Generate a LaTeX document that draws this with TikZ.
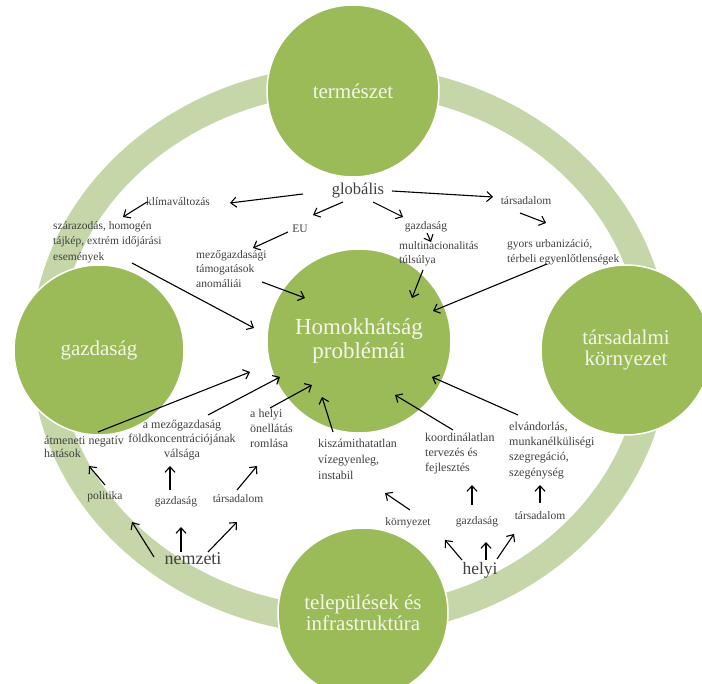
\documentclass[tikz,border=0pt]{standalone}
\usepackage{fontspec}
\setmainfont{Liberation Serif}
\usetikzlibrary{arrows.meta,calc}
\definecolor{ringg}{HTML}{C5D6A8}
\definecolor{circg}{HTML}{9BBB59}
\definecolor{circt}{HTML}{F3F6E8}
\definecolor{lblc}{HTML}{404040}
\begin{document}
\begin{tikzpicture}[x=1pt,y=-1pt,
  circ/.style={circle, fill=circg, draw=white, line width=1.5pt, text=circt, align=center, inner sep=0pt, font=\fontsize{21}{20.5}\selectfont},
  lbl/.style={text=lblc, inner sep=1pt, anchor=mid, font=\fontsize{11.5}{15}\selectfont},
  lblm/.style={text=lblc, inner sep=1pt, align=left, anchor=mid west, font=\fontsize{11.5}{15}\selectfont},
  lblb/.style={text=lblc, inner sep=1pt, align=left, anchor=mid west, font=\fontsize{12}{15}\selectfont},
  big/.style={text=lblc, inner sep=1pt, anchor=mid, font=\fontsize{17}{20}\selectfont},
  arr/.style={line width=1.1pt, -{Straight Barb[length=5.5pt,width=10pt]}}
]
\useasboundingbox (0,0) rectangle (702,684);
% ring
\draw[ringg, line width=28pt] (350,350) ellipse [x radius=305pt, y radius=271pt];
% circles
\node[circ, minimum size=172pt] (nat) at (353,91) {természet};
\node[circ, minimum size=170pt] (eco) at (99,350) {gazdaság};
\node[circ, minimum size=170pt] (soc) at (626,350) {társadalmi\\környezet};
\node[circ, minimum size=170pt] (inf) at (363,613) {települések és\\infrastruktúra};
\node[circ, minimum size=184pt, font=\fontsize{23}{24}\selectfont] (hk) at (359,341) {Homokhátság\\problémái};
% upper labels (multi-line nodes are placed by their last line)
\node[big, font=\fontsize{16.5}{20}\selectfont] (glob) at (358,192) {globális};
\node[lbl] (klima) at (178,203) {klímaváltozás};
\node[lbl] (eu) at (300,230) {EU};
\node[lbl] (gazd1) at (426,227) {gazdaság};
\node[lbl] (tars1) at (526,202) {társadalom};
\node[lblm, font=\fontsize{11.5}{15.5}\selectfont] (szar) at (52,258) {szárazodás, homogén\\tájkép, extrém időjárási\\események};
\node[lblm, font=\fontsize{11.5}{14.5}\selectfont] (mezo) at (195,285) {mezőgazdasági\\támogatások\\anomáliái};
\node[lblm, font=\fontsize{11.5}{14}\selectfont] (multi) at (398,261) {multinacionalitás\\túlsúlya};
\node[lblm] (gyors) at (506,260) {gyors urbanizáció,\\térbeli egyenlőtlenségek};
% lower labels
\node[lblb, font=\fontsize{12}{13}\selectfont] (atm) at (43,455) {átmeneti negatív\\hatások};
\node[lblb, align=center, anchor=mid, font=\fontsize{12}{14.5}\selectfont] (valsag) at (182,455) {a mezőgazdaság\\földkoncentrációjának\\válsága};
\node[lblb] (helyi1) at (249,445) {a helyi\\önellátás\\romlása};
\node[lblb, font=\fontsize{12}{16}\selectfont] (kisz) at (317,477) {kiszámithatatlan\\vízegyenleg,\\instabil};
\node[lblb] (koord) at (424,469) {koordinálatlan\\tervezés és\\fejlesztés};
\node[lblb, font=\fontsize{12}{15.3}\selectfont] (elv) at (508,474) {elvándorlás,\\munkanélküliségi\\szegregáció,\\szegénység};
\node[lbl] (pol) at (105,497) {politika};
\node[lbl] (gazd2) at (176,502) {gazdaság};
\node[lbl] (tars2) at (238,500) {társadalom};
\node[big, font=\fontsize{18}{20}\selectfont] (nemz) at (193,562) {nemzeti};
\node[lbl] (korny) at (408,523) {környezet};
\node[lbl] (gazd3) at (477,522) {gazdaság};
\node[lbl] (tars3) at (540,517) {társadalom};
\node[big, font=\fontsize{17.5}{20}\selectfont] (helyi) at (480,572) {helyi};
% upper arrows
\draw[arr] ($(glob.mid)+(-55,2)$) -- ($(klima.mid)+(52,0)$);
\draw[arr] ($(klima.mid)+(-31,-1)$) -- ($(szar.mid west)+(71,-41)$);
\draw[arr] ($(glob.mid)+(-15,10)$) -- ($(eu.mid)+(13,-15)$);
\draw[arr] ($(eu.mid)+(-12,2)$) -- ($(mezo.mid west)+(58,-37)$);
\draw[arr] ($(glob.mid)+(15,10)$) -- ($(gazd1.mid)+(-23,-10)$);
\draw[arr] ($(glob.mid)+(34,-1)$) -- ($(tars1.mid)+(-33,-5)$);
\draw[arr] ($(gazd1.mid)+(1,6)$) -- ($(multi.mid west)+(33,-19)$);
\draw[arr] ($(tars1.mid)+(-6,11)$) -- ($(gyors.mid west)+(40,-37)$);
\draw[arr] ($(szar.mid west)+(80,5)$) -- ($(hk.center)+(-105,-13)$);
\draw[arr] ($(mezo.mid west)+(67,-3)$) -- ($(hk.center)+(-54,-43)$);
\draw[arr] ($(multi.mid west)+(25,9)$) -- ($(hk.center)+(53,-43)$);
\draw[arr] ($(gyors.mid west)+(41,4)$) -- ($(hk.center)+(74,-30)$);
% lower arrows into the centre
\draw[arr] ($(atm.mid west)+(55,-23)$) -- ($(hk.center)+(-109,31)$);
\draw[arr] ($(valsag.mid)+(26,-40)$) -- ($(hk.center)+(-79,36)$);
\draw[arr] ($(helyi1.mid west)+(21,-37)$) -- ($(hk.center)+(-47,44)$);
\draw[arr] ($(kisz.mid west)+(16,-45)$) -- ($(hk.center)+(-37,56)$);
\draw[arr] ($(koord.mid west)+(29,-39)$) -- ($(hk.center)+(36,54)$);
\draw[arr] ($(elv.mid west)+(10,-59)$) -- ($(hk.center)+(73,36)$);
% national
\draw[arr] ($(nemz.mid)+(-39,-5)$) -- ($(pol.mid)+(27,25)$);
\draw[arr] ($(nemz.mid)+(-12,-10)$) -- ($(gazd2.mid)+(5,25)$);
\draw[arr] ($(nemz.mid)+(15,-10)$) -- ($(tars2.mid)+(-1,22)$);
\draw[arr] ($(pol.mid)+(0,-12)$) -- ($(atm.mid west)+(46,11)$);
\draw[arr] ($(gazd2.mid)+(-6,-12)$) -- ($(valsag.mid)+(-12,11)$);
\draw[arr] ($(tars2.mid)+(-1,-10)$) -- ($(helyi1.mid west)+(8,21)$);
% local
\draw[arr] ($(helyi.mid)+(-18,-12)$) -- ($(korny.mid)+(37,17)$);
\draw[arr] ($(helyi.mid)+(6,-12)$) -- ($(gazd3.mid)+(9,20)$);
\draw[arr] ($(helyi.mid)+(17,-13)$) -- ($(tars3.mid)+(-26,17)$);
\draw[arr] ($(korny.mid)+(2,-13)$) -- ($(kisz.mid west)+(68,16)$);
\draw[arr] ($(gazd3.mid)+(-5,-17)$) -- ($(koord.mid west)+(48,16)$);
\draw[arr] ($(tars3.mid)+(0,-14)$) -- ($(elv.mid west)+(32,11)$);
\end{tikzpicture}
\end{document}
